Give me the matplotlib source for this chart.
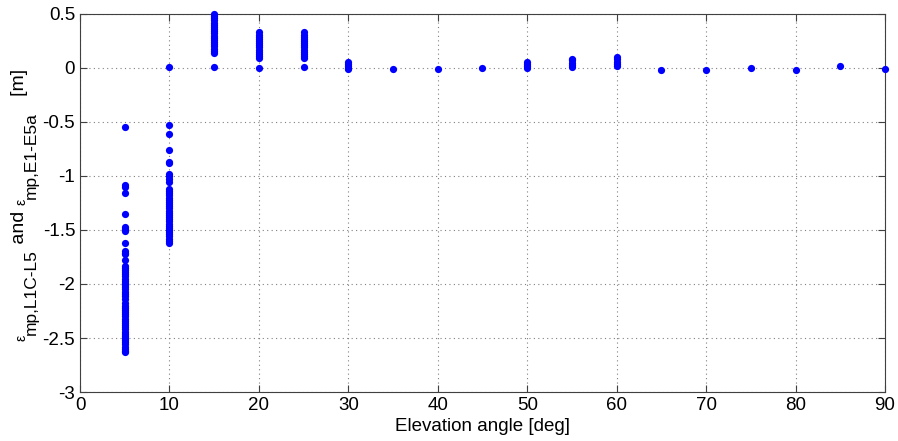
import numpy as np
import matplotlib.pyplot as plt

# multipath error per elevation bin [m]
elevations = [5, 10, 15, 20, 25, 30, 35, 40, 45, 50, 55, 60, 65, 70, 75, 80, 85, 90]

err_05 = [-0.55, -1.08, -1.10, -1.16, -1.35, -1.47, -1.49, -1.51, -1.62, -1.69,
          -1.71, -1.72, -1.78, -1.83, -1.85, -1.87, -1.89, -1.91, -1.93, -1.95,
          -1.97, -1.99, -2.01, -2.03, -2.05, -2.07, -2.09, -2.11, -2.14, -2.18,
          -2.20, -2.22, -2.24, -2.26, -2.28, -2.30, -2.32, -2.34, -2.36, -2.38,
          -2.40, -2.42, -2.44, -2.46, -2.48, -2.50, -2.52, -2.54, -2.56, -2.58,
          -2.60, -2.62, -2.63]
err_10 = [0.01, -0.53, -0.61, -0.76, -0.87, -0.88, -0.98, -1.00, -1.03, -1.06,
          -1.12, -1.14, -1.16, -1.18, -1.20, -1.22, -1.24, -1.26, -1.28, -1.30,
          -1.32, -1.34, -1.36, -1.38, -1.40, -1.42, -1.44, -1.46, -1.48, -1.50,
          -1.52, -1.54, -1.56, -1.58, -1.60, -1.62]
err_15 = [0.01, 0.14, 0.16, 0.18, 0.20, 0.22, 0.24, 0.26, 0.28, 0.30, 0.32,
          0.34, 0.36, 0.38, 0.40, 0.42, 0.44, 0.46, 0.48, 0.50]
err_20 = [0.0, 0.09, 0.11, 0.13, 0.15, 0.17, 0.19, 0.21, 0.23, 0.25, 0.27,
          0.29, 0.31, 0.33]
err_25 = [0.01, 0.09, 0.11, 0.13, 0.15, 0.17, 0.19, 0.21, 0.23, 0.25, 0.27,
          0.29, 0.31, 0.33]
err_30 = [-0.01, 0.0, 0.02, 0.04, 0.06]
err_35 = [-0.01]
err_40 = [-0.01]
err_45 = [0.0]
err_50 = [0.0, 0.02, 0.04, 0.055]
err_55 = [0.01, 0.03, 0.05, 0.07, 0.085]
err_60 = [0.015, 0.04, 0.06, 0.08, 0.105]
err_65 = [-0.015]
err_70 = [-0.015]
err_75 = [0.0]
err_80 = [-0.015]
err_85 = [0.015]
err_90 = [-0.005]

errors = [err_05, err_10, err_15, err_20, err_25, err_30, err_35, err_40, err_45,
          err_50, err_55, err_60, err_65, err_70, err_75, err_80, err_85, err_90]

ytick_labels = ['-3', '-2.5', '-2', '-1.5', '-1', '-0.5', '0', '0.5']

plt.rcParams['font.family'] = ['Liberation Sans', 'DejaVu Sans']
plt.rcParams['axes.unicode_minus'] = False

fig = plt.figure(figsize=(8.98, 4.41), dpi=100)
ax = fig.add_axes([0.0891, 0.1111, 0.8964, 0.8572])

for elev, vals in zip(elevations, errors):
    ax.plot(np.full(len(vals), elev), vals, 'o', color=(0, 0, 1),
            markersize=5.2, markeredgewidth=0, zorder=3, clip_on=False)

ax.set_xlim(0, 90)
ax.set_ylim(-3, 0.5)
ax.set_xticks(np.arange(0, 91, 10))
ax.set_yticks(np.arange(-3, 0.51, 0.5))
ax.set_yticklabels(ytick_labels)

ax.grid(True, linestyle=(0, (1, 3)), color='#808080', linewidth=0.8)
ax.tick_params(direction='in', top=True, right=True, length=5,
               labelsize=13.5, color='#404040')
for s in ax.spines.values():
    s.set_color('#404040')

ax.set_xlabel('Elevation angle [deg]', fontsize=13.5, labelpad=3)

# y label built from pieces so the subscripts stay near full size
pieces = [('ε', 10, 'main'), ('mp,L1C-L5', 12.5, 'sub'), (' and ', 14, 'main'),
          ('ε', 10, 'main'), ('mp,E1-E5a', 12.5, 'sub'), ('   [m]', 14, 'main')]
xpos = {'main': 28, 'sub': 23.5}
hal = {'main': 'right', 'sub': 'left'}
prev = None
for txt, size, kind in pieces:
    if prev is None:
        prev = ax.annotate(txt, xy=(xpos[kind], 100), xycoords='figure pixels',
                           rotation=90, fontsize=size, ha=hal[kind], va='bottom')
    else:
        prev = ax.annotate(txt, xy=(xpos[kind], 1.0),
                           xycoords=('figure pixels', prev),
                           rotation=90, fontsize=size, ha=hal[kind], va='bottom')

fig.savefig('out.png', dpi=100)
